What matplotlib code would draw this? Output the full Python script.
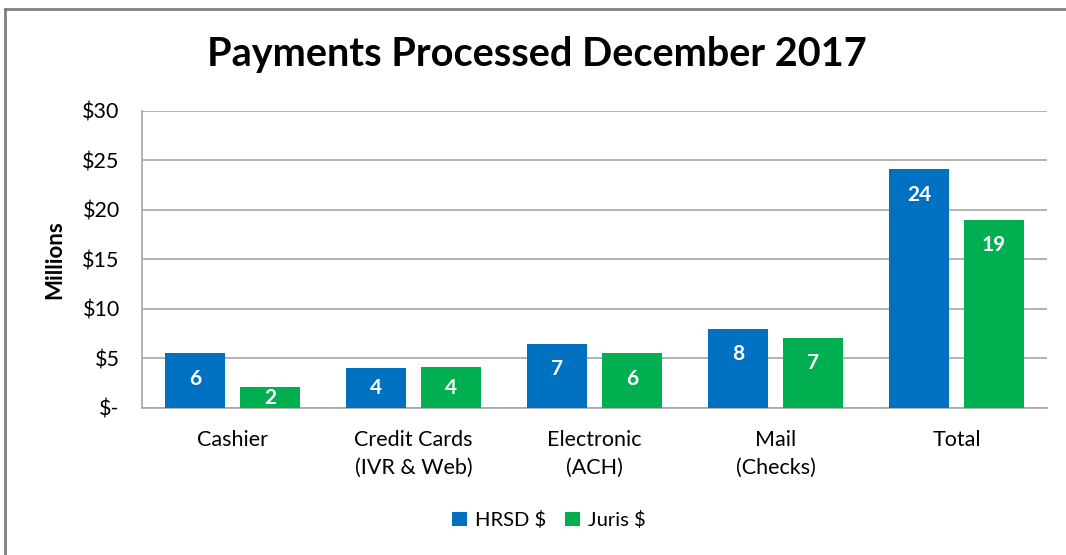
import math

import matplotlib.pyplot as plt
import numpy as np
from matplotlib.lines import Line2D

# Payment totals by channel, in millions of dollars
categories = ["Cashier", "Credit Cards\n(IVR & Web)", "Electronic\n(ACH)", "Mail\n(Checks)", "Total"]
hrsd_values = [5.5, 4.0, 6.5, 8.0, 24.1]
juris_values = [2.1, 4.1, 5.5, 7.1, 19.0]
y_ticks = [0, 5, 10, 15, 20, 25, 30]
y_tick_labels = ["$-", "$5", "$10", "$15", "$20", "$25", "$30"]

HRSD_COLOR = "#0070C0"
JURIS_COLOR = "#00B050"
GRID_COLOR = "#A6A6A6"

plt.rcParams["font.family"] = ["Lato", "DejaVu Sans"]


def round_half_up(v):
    return int(math.floor(v + 0.5))


def label_bars(ax, xs, values):
    for x, v in zip(xs, values):
        # keep the label near the top of tall bars, centred in short ones
        y = max(v / 2, v - 2.6)
        ax.text(x, y, f"{round_half_up(v)}", ha="center", va="center",
                color="white", fontsize=15, fontweight="bold")


fig = plt.figure(figsize=(10.66, 5.55), dpi=100)
ax = fig.add_axes([0.1332, 0.2649, 0.849, 0.536])

x = np.arange(len(categories))
bar_width = 0.33
offset = 0.207

ax.bar(x - offset, hrsd_values, bar_width, color=HRSD_COLOR, label="HRSD $", zorder=3)
ax.bar(x + offset, juris_values, bar_width, color=JURIS_COLOR, label="Juris $", zorder=3)
label_bars(ax, x - offset, hrsd_values)
label_bars(ax, x + offset, juris_values)

ax.set_xlim(-0.5, len(categories) - 0.5)
ax.set_ylim(0, 30)
ax.set_yticks(y_ticks)
ax.set_yticklabels(y_tick_labels, fontsize=15.5)
ax.set_xticks(x)
ax.set_xticklabels(categories, fontsize=15.5, linespacing=1.45)
ax.tick_params(axis="both", length=0)
ax.tick_params(axis="x", pad=16)
ax.tick_params(axis="y", pad=16)

ax.grid(axis="y", color=GRID_COLOR, linewidth=1.2, zorder=0)
for side in ["top", "right"]:
    ax.spines[side].set_visible(False)
ax.spines["left"].set_color(GRID_COLOR)
ax.spines["bottom"].set_color(GRID_COLOR)
ax.spines["left"].set_linewidth(1.2)
ax.spines["bottom"].set_linewidth(1.2)

ax.set_ylabel("Millions", fontsize=16, fontweight="bold", labelpad=12)

fig.text(0.504, 0.901, "Payments Processed December 2017", ha="center", va="center",
         fontsize=28.5, fontweight="bold")

fig.legend(loc="center", bbox_to_anchor=(0.515, 0.063), ncol=2, frameon=False,
           fontsize=14.5, handlelength=0.75, handleheight=0.75, handletextpad=0.4,
           columnspacing=0.9)

# chart frame: only the left and top edges fall inside the canvas
frame_x = 5 / 1066
frame_y = 1 - 9 / 555
fig.add_artist(Line2D([frame_x, frame_x], [0, frame_y], transform=fig.transFigure,
                      color="#808080", linewidth=2))
fig.add_artist(Line2D([frame_x, 1], [frame_y, frame_y], transform=fig.transFigure,
                      color="#808080", linewidth=2))

fig.savefig("out.png", dpi=100)
